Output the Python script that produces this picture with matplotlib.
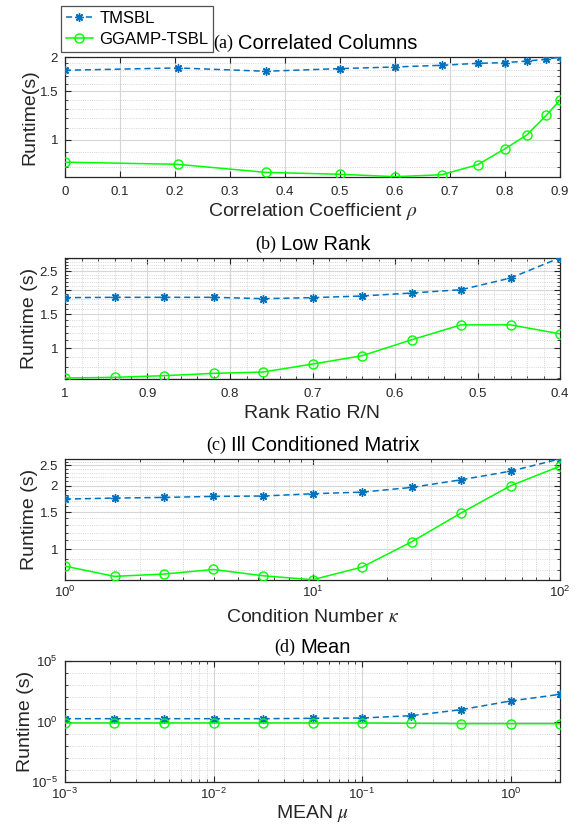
import numpy as np
import matplotlib
matplotlib.use("Agg")
import matplotlib.pyplot as plt
import matplotlib.ticker as mticker

plt.rcParams["font.family"] = ["Liberation Sans", "DejaVu Sans"]
plt.rcParams["mathtext.fontset"] = "stix"

# -------- data --------
rho = [0, 0.205, 0.365, 0.5, 0.6, 0.685, 0.75, 0.8, 0.84, 0.875, 0.9]
rho_tmsbl = [1.79, 1.825, 1.775, 1.815, 1.84, 1.866, 1.897, 1.908, 1.934, 1.962, 2.0]
rho_ggamp = [0.83, 0.815, 0.762, 0.75, 0.735, 0.747, 0.812, 0.928, 1.043, 1.228, 1.395]

rank = [1, 0.94, 0.88, 0.82, 0.76, 0.70, 0.64, 0.58, 0.52, 0.46, 0.40]
rank_tmsbl = [1.826, 1.833, 1.833, 1.833, 1.804, 1.826, 1.862, 1.93, 2.007, 2.307, 2.937]
rank_ggamp = [0.70, 0.706, 0.72, 0.74, 0.752, 0.827, 0.913, 1.104, 1.32, 1.32, 1.186]

kappa = [1, 1.585, 2.512, 3.981, 6.31, 10, 15.85, 25.12, 39.81, 63.1, 100]
kappa_tmsbl = [1.729, 1.748, 1.761, 1.781, 1.788, 1.833, 1.866, 1.964, 2.135, 2.346, 2.683]
kappa_ggamp = [0.831, 0.743, 0.762, 0.801, 0.748, 0.716, 0.822, 1.083, 1.485, 2.0, 2.477]

mu = [0.001, 0.002154, 0.004642, 0.01, 0.02154, 0.04642, 0.1, 0.2154, 0.4642, 1.0, 2.154]
mu_tmsbl = [1.71, 1.71, 1.71, 1.71, 1.71, 1.83, 1.95, 3.03, 9.5, 49.5, 176]
mu_ggamp = [0.75, 0.75, 0.75, 0.75, 0.75, 0.75, 0.75, 0.71, 0.66, 0.66, 0.66]

titles = [("(a)", "Correlated Columns", 0.345),
          ("(b)", "Low Rank", 0.431),
          ("(c)", "Ill Conditioned Matrix", 0.331),
          ("(d)", "Mean", 0.471)]
xlabels = [r"Correlation Coefficient $\rho$", "Rank Ratio R/N",
           r"Condition Number $\kappa$", r"MEAN $\mu$"]
ylabels = ["Runtime(s)", "Runtime (s)", "Runtime (s)", "Runtime (s)"]

BLUE = "#0072BD"
GREEN = "#00FF00"
DARK = "#262626"

fig = plt.figure(figsize=(5.83, 8.35), dpi=100)
W, H = 583, 835
L, R = 65, 560
boxes = [(57, 177), (258, 379), (459, 580), (661, 782)]
xlab_off = [35, 34, 37, 31]
ylab_x = [30, 29, 29, 26]
axes = []
for top, bot in boxes:
    axes.append(fig.add_axes([L / W, 1 - bot / H, (R - L) / W, (bot - top) / H]))

data = [(rho, rho_tmsbl, rho_ggamp), (rank, rank_tmsbl, rank_ggamp),
        (kappa, kappa_tmsbl, kappa_ggamp), (mu, mu_tmsbl, mu_ggamp)]

handles = None
for i, ax in enumerate(axes):
    x, t, g = data[i]
    h1, = ax.plot(x, t, linestyle="--", color=BLUE, lw=1.1, marker=(8, 2, 0),
                  ms=6, mew=1.0, dashes=(4, 2.5), label="TMSBL", zorder=3)
    h2, = ax.plot(x, g, linestyle="-", color=GREEN, lw=1.1, marker="o", ms=6.5,
                  mfc="none", mew=1.0, label="GGAMP-TSBL", zorder=4)
    if handles is None:
        handles = [h1, h2]
    ax.set_yscale("log")

    top, bot = boxes[i]
    ax.set_xlabel(xlabels[i], fontsize=14, color=DARK, va="center")
    ax.xaxis.set_label_coords(0.5, -xlab_off[i] / (bot - top))
    ax.set_ylabel(ylabels[i], fontsize=14, color=DARK, va="center")
    ax.yaxis.set_label_coords((ylab_x[i] - L) / (R - L), 0.5)

    # title: serif "(x)" then sans text, as in the original figure
    lab, rest, split = titles[i]
    ax.annotate(lab, xy=(split, 1), xycoords="axes fraction", xytext=(-1.8, 10),
                textcoords="offset points", ha="right", va="center",
                fontsize=13, family="Liberation Serif")
    ax.annotate(rest, xy=(split, 1), xycoords="axes fraction", xytext=(1.8, 10),
                textcoords="offset points", ha="left", va="center", fontsize=14.5)

    for s in ax.spines.values():
        s.set_color(DARK)
        s.set_linewidth(0.9)
    ax.tick_params(which="both", direction="in", top=True, right=True,
                   colors=DARK, labelsize=9.5)
    ax.tick_params(which="major", length=4)
    ax.tick_params(which="minor", length=2)
    ax.tick_params(axis="y", which="major", pad=5)
    ax.grid(True, which="major", color="#d6d6d6", lw=0.8)
    ax.grid(True, which="minor", color="#c8c8c8", lw=0.6, linestyle=":")

fmt = mticker.FuncFormatter(lambda v, p: f"{v:g}")

# (a)
ax = axes[0]
ax.set_xlim(0, 0.9)
ax.set_ylim(0.733, 2.0)
ax.xaxis.set_major_locator(mticker.MultipleLocator(0.1))
ax.xaxis.set_major_formatter(fmt)
ax.xaxis.set_minor_locator(mticker.NullLocator())
ax.yaxis.set_major_locator(mticker.FixedLocator([1, 1.5, 2]))
ax.yaxis.set_minor_locator(mticker.MultipleLocator(0.1))
ax.yaxis.set_major_formatter(fmt)
ax.yaxis.set_minor_formatter(mticker.NullFormatter())
ax.tick_params(axis="x", which="major", pad=6.5)

# (b)
ax = axes[1]
ax.set_xlim(1, 0.4)
ax.set_ylim(0.692, 2.93)
ax.xaxis.set_major_locator(mticker.MultipleLocator(0.1))
ax.xaxis.set_major_formatter(fmt)
ax.xaxis.set_minor_locator(mticker.MultipleLocator(0.02))
ax.yaxis.set_major_locator(mticker.FixedLocator([1, 1.5, 2, 2.5]))
ax.yaxis.set_minor_locator(mticker.MultipleLocator(0.1))
ax.yaxis.set_major_formatter(fmt)
ax.yaxis.set_minor_formatter(mticker.NullFormatter())
ax.tick_params(axis="x", which="major", pad=6.5)

# (c)
ax = axes[2]
ax.set_xscale("log")
ax.set_xlim(1, 100)
ax.set_ylim(0.714, 2.68)
ax.xaxis.set_major_locator(mticker.LogLocator(base=10, numticks=10))
ax.xaxis.set_minor_locator(mticker.LogLocator(base=10, subs=np.arange(2, 10), numticks=10))
ax.xaxis.set_minor_formatter(mticker.NullFormatter())
ax.yaxis.set_major_locator(mticker.FixedLocator([1, 1.5, 2, 2.5]))
ax.yaxis.set_minor_locator(mticker.MultipleLocator(0.1))
ax.yaxis.set_major_formatter(fmt)
ax.yaxis.set_minor_formatter(mticker.NullFormatter())

# (d)
ax = axes[3]
ax.set_xscale("log")
ax.set_xlim(mu[0], mu[-1])
ax.set_ylim(1e-5, 1e5)
ax.xaxis.set_major_locator(mticker.LogLocator(base=10, numticks=10))
ax.xaxis.set_minor_locator(mticker.LogLocator(base=10, subs=np.arange(2, 10), numticks=10))
ax.xaxis.set_minor_formatter(mticker.NullFormatter())
ax.yaxis.set_major_locator(mticker.FixedLocator([1e-5, 1, 1e5]))
ax.yaxis.set_minor_locator(mticker.LogLocator(base=10, subs=(1.0,), numticks=20))
ax.yaxis.set_minor_formatter(mticker.NullFormatter())

leg = fig.legend(handles, ["TMSBL", "GGAMP-TSBL"], loc="upper left",
                 bbox_to_anchor=(61 / W, 1 - 6 / H), fontsize=12, frameon=True,
                 fancybox=False, edgecolor=DARK, handlelength=1.6,
                 borderpad=0.3, labelspacing=0.35, handletextpad=0.4,
                 borderaxespad=0)
leg.get_frame().set_linewidth(0.9)

fig.savefig("out.png", dpi=100)
